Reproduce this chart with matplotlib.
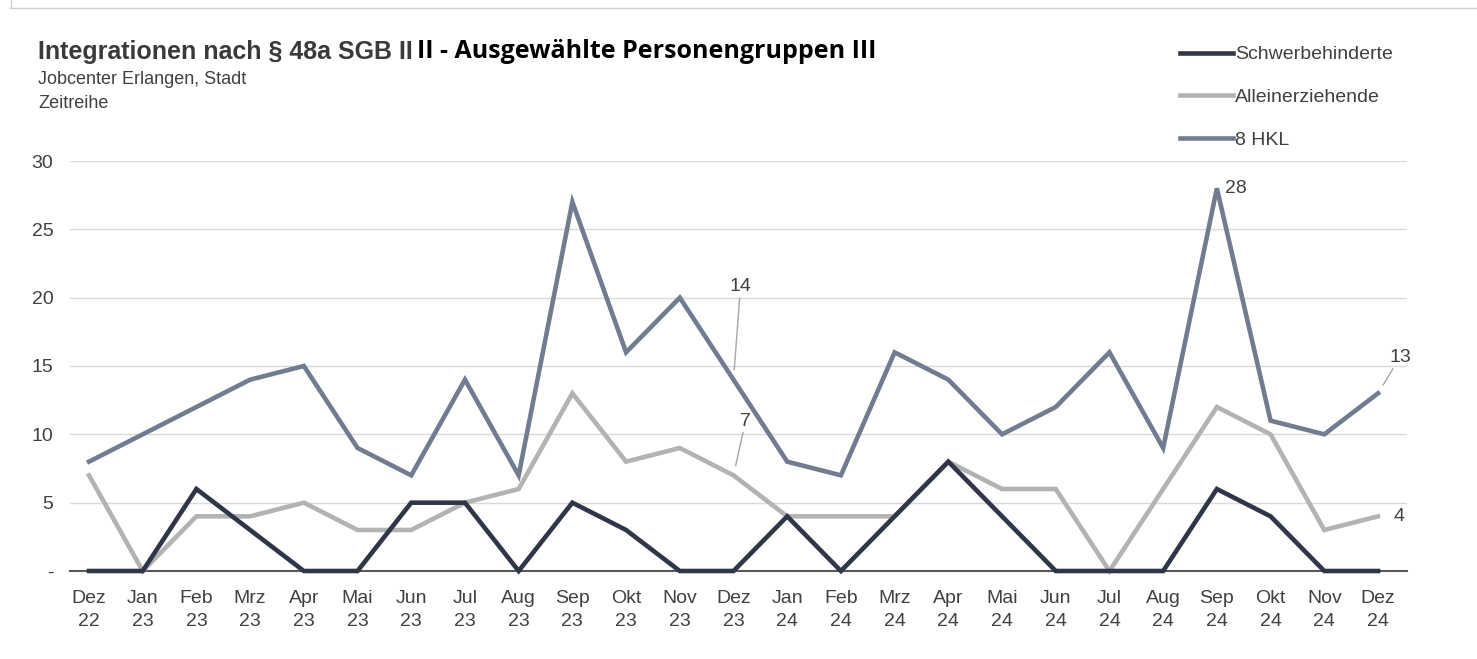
import numpy as np
import matplotlib
matplotlib.use('Agg')
import matplotlib.pyplot as plt
from matplotlib.lines import Line2D

# Daten
monate = ['Dez\n22', 'Jan\n23', 'Feb\n23', 'Mrz\n23', 'Apr\n23', 'Mai\n23', 'Jun\n23',
          'Jul\n23', 'Aug\n23', 'Sep\n23', 'Okt\n23', 'Nov\n23', 'Dez\n23', 'Jan\n24',
          'Feb\n24', 'Mrz\n24', 'Apr\n24', 'Mai\n24', 'Jun\n24', 'Jul\n24', 'Aug\n24',
          'Sep\n24', 'Okt\n24', 'Nov\n24', 'Dez\n24']
schwerbehinderte = [0, 0, 6, 3, 0, 0, 5, 5, 0, 5, 3, 0, 0, 4, 0, 4, 8, 4, 0, 0, 0, 6, 4, 0, 0]
alleinerziehende = [7, 0, 4, 4, 5, 3, 3, 5, 6, 13, 8, 9, 7, 4, 4, 4, 8, 6, 6, 0, 6, 12, 10, 3, 4]
hkl8 = [8, 10, 12, 14, 15, 9, 7, 14, 7, 27, 16, 20, 14, 8, 7, 16, 14, 10, 12, 16, 9, 28, 11, 10, 13]
yticks = [0, 5, 10, 15, 20, 25, 30]
ylabels = ['-', '5', '10', '15', '20', '25', '30']

c_sb = '#2e3648'
c_ae = '#b3b3b3'
c_hkl = '#727c90'
txt = '#404040'

plt.rcParams['font.family'] = ['Liberation Sans', 'DejaVu Sans']

W, H = 1477, 659
fig = plt.figure(figsize=(W/100, H/100), dpi=100)
ax = fig.add_axes([70/W, 1-571/H, (1407-70)/W, (571-161)/H])

x = np.arange(len(monate))
ax.plot(x, hkl8, color=c_hkl, lw=3.3, clip_on=False, solid_joinstyle='miter', zorder=3)
ax.plot(x, alleinerziehende, color=c_ae, lw=3.3, clip_on=False, solid_joinstyle='miter', zorder=4)
ax.plot(x, schwerbehinderte, color=c_sb, lw=3.3, clip_on=False, solid_joinstyle='miter', zorder=5)

# x-Achse so, dass Punkte zwischen den Gitterlinien sitzen
sp = (1378-89)/24
ax.set_xlim(-(89-70)/sp, 24 + (1407-1378)/sp)
ax.set_ylim(0, 30)
ax.set_yticks(yticks)
ax.set_yticklabels(ylabels)
ax.set_xticks(x)
ax.set_xticklabels(monate, linespacing=1.4)
ax.tick_params(length=0, labelsize=14, labelcolor=txt)
ax.tick_params(axis='y', pad=12)
ax.tick_params(axis='x', pad=14)
ax.grid(axis='y', color='#d9d9d9', lw=1)
ax.set_axisbelow(True)
for s in ['top', 'right', 'left']:
    ax.spines[s].set_visible(False)
ax.spines['bottom'].set_color('#595959')
ax.spines['bottom'].set_linewidth(1.5)
ax.spines['bottom'].set_zorder(2)

# Beschriftungen
ann = dict(textcoords='offset pixels', fontsize=14, color=txt, ha='center', va='center')
lead = dict(arrowstyle='-', color='#a6a6a6', lw=1, shrinkA=0, shrinkB=7)
ax.annotate('14', (12, 14), xytext=(7, 93), arrowprops=lead, **ann)
ax.annotate('7', (12, 7), xytext=(12, 54), arrowprops=lead, **ann)
ax.annotate('28', (21, 28), xytext=(8, 0), **{**ann, 'ha': 'left'})
ax.annotate('13', (24, 13), xytext=(22, 36), arrowprops=lead, **ann)
ax.annotate('4', (24, 4), xytext=(16, 0), **{**ann, 'ha': 'left'})

# Legende
handles = [Line2D([], [], color=c, lw=3.3) for c in (c_sb, c_ae, c_hkl)]
fig.legend(handles, ['Schwerbehinderte', 'Alleinerziehende', '8 HKL'],
           loc='upper left', bbox_to_anchor=(1172/W, 1-38/H), frameon=False,
           fontsize=14, labelcolor=txt, handlelength=2.75, handletextpad=0.1,
           labelspacing=1.3, borderaxespad=0)

# Titel
t1 = fig.text(38/W, 1-52/H, 'Integrationen nach § 48a SGB II', fontsize=18,
              fontweight='bold', color='#3a3a3a', va='center')
fig.canvas.draw()
bb = t1.get_window_extent()
fig.text(bb.x1/W + 4/W, 1-52/H, 'II - Ausgewählte Personengruppen III', fontsize=18,
         fontweight='bold', family=['Open Sans', 'DejaVu Sans'], color='#000000', va='center')
fig.text(38/W, 1-80/H, 'Jobcenter Erlangen, Stadt', fontsize=13, color=txt, va='center')
fig.text(38/W, 1-103/H, 'Zeitreihe', fontsize=13, color=txt, va='center')

# Rahmenlinien
fig.add_artist(Line2D([10/W, 1], [1-8/H, 1-8/H], color='#d0d0d0', lw=1))
fig.add_artist(Line2D([11/W, 11/W], [1-8/H, 1], color='#d0d0d0', lw=1))

fig.savefig('out.png', dpi=100)
